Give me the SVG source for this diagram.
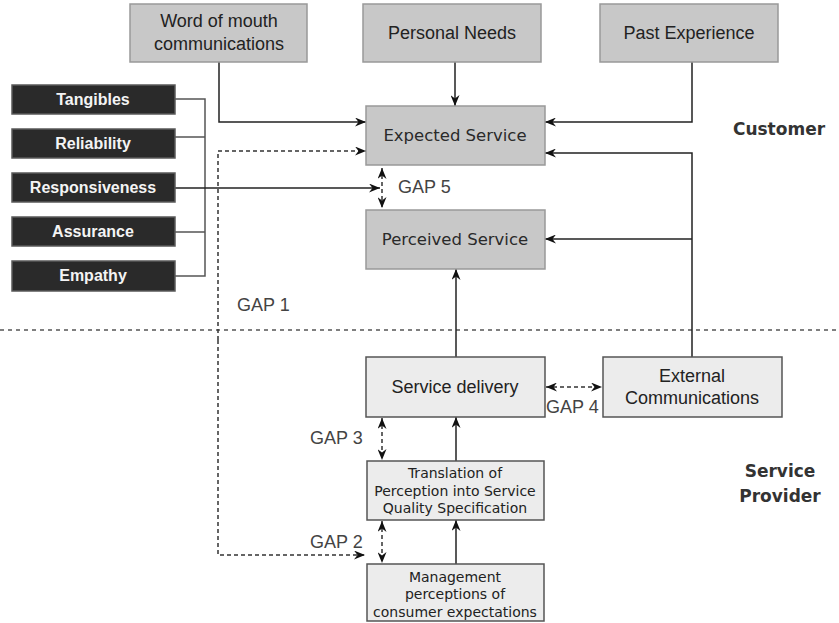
<svg xmlns="http://www.w3.org/2000/svg" width="839" height="623" viewBox="0 0 839 623">
  <style>
    .top { fill: #c8c8c8; stroke: #999999; stroke-width: 1.5; }
    .low { fill: #ececec; stroke: #555555; stroke-width: 1.5; }
    .dim { fill: #2a2a2a; stroke: #5a5a5a; stroke-width: 1.5; }
    .t18 { font-family: "Liberation Sans", Arial, sans-serif; font-size: 18px; fill: #222222; text-anchor: middle; }
    .tsv { font-family: "DejaVu Sans", Verdana, sans-serif; font-size: 16.5px; fill: #2a2a2a; text-anchor: middle; }
    .tsm { font-family: "DejaVu Sans", Verdana, sans-serif; font-size: 14px; fill: #222222; text-anchor: middle; }
    .tdim { font-family: "Liberation Sans", Arial, sans-serif; font-size: 16px; font-weight: bold; fill: #f4f4f4; text-anchor: middle; }
    .gap { font-family: "Liberation Sans", Arial, sans-serif; font-size: 18px; fill: #444444; }
    .side { font-family: "DejaVu Sans", Verdana, sans-serif; font-size: 17px; font-weight: bold; fill: #333333; text-anchor: middle; }
    .ln { fill: none; stroke: #222222; stroke-width: 1.5; }
    .br { fill: none; stroke: #555555; stroke-width: 1.5; }
    .dash { fill: none; stroke: #333333; stroke-width: 1.5; stroke-dasharray: 4 3; }
    .sep { fill: none; stroke: #555555; stroke-width: 1.5; stroke-dasharray: 4 4; }
  </style>
  <defs>
    <marker id="arr" viewBox="0 0 11 9" refX="11" refY="4.5" markerWidth="11" markerHeight="9" markerUnits="userSpaceOnUse" orient="auto-start-reverse">
      <path d="M0,0 L11,4.5 L0,9 L3.5,4.5 z" fill="#111111"/>
    </marker>
  </defs>

  <rect width="839" height="623" fill="#ffffff"/>

  <!-- region separator -->
  <path class="sep" d="M0,330 H839"/>

  <g id="connectors">
    <path class="ln" d="M219,62 V122 H366" marker-end="url(#arr)"/>
    <path class="ln" d="M455,62 V106" marker-end="url(#arr)"/>
    <path class="ln" d="M692,62 V122 H545" marker-end="url(#arr)"/>
    <path class="ln" d="M692,357 V153 H545" marker-end="url(#arr)"/>
    <path class="ln" d="M692,239 H545" marker-end="url(#arr)"/>
    <path class="ln" d="M456,357 V269" marker-end="url(#arr)"/>
    <path class="ln" d="M456,461 V417" marker-end="url(#arr)"/>
    <path class="ln" d="M456,564 V520" marker-end="url(#arr)"/>
    <!-- dimension bracket -->
    <path class="br" d="M175,99 H205 V276 H175"/>
    <path class="br" d="M175,137 H205"/>
    <path class="br" d="M175,232 H205"/>
    <path class="ln" d="M175,188 H380" marker-end="url(#arr)"/>
    <!-- GAP 1 -->
    <path class="dash" d="M218,340 V151 H366" marker-end="url(#arr)"/>
    <path class="dash" d="M218,340 V555 H365" marker-end="url(#arr)"/>
    <!-- GAP 5, 4, 3, 2 -->
    <path class="dash" d="M382,168 V208" marker-start="url(#arr)" marker-end="url(#arr)"/>
    <path class="dash" d="M546,387 H602" marker-start="url(#arr)" marker-end="url(#arr)"/>
    <path class="dash" d="M382,418 V460" marker-start="url(#arr)" marker-end="url(#arr)"/>
    <path class="dash" d="M382,521 V563" marker-start="url(#arr)" marker-end="url(#arr)"/>
  </g>

  <g id="word-of-mouth">
    <rect class="top" x="130" y="4" width="177" height="58"/>
    <text class="t18" x="219" y="27">Word of mouth</text>
    <text class="t18" x="219" y="50">communications</text>
  </g>
  <g id="personal-needs">
    <rect class="top" x="363" y="4" width="178" height="58"/>
    <text class="t18" x="452" y="39">Personal Needs</text>
  </g>
  <g id="past-experience">
    <rect class="top" x="600" y="4" width="178" height="58"/>
    <text class="t18" x="689" y="39">Past Experience</text>
  </g>

  <g id="expected-service">
    <rect class="top" x="366" y="106" width="179" height="59"/>
    <text class="tsv" x="455" y="141">Expected Service</text>
  </g>
  <g id="perceived-service">
    <rect class="top" x="366" y="210" width="179" height="59"/>
    <text class="tsv" x="455" y="245">Perceived Service</text>
  </g>

  <g id="tangibles">
    <rect class="dim" x="12" y="85" width="163" height="29"/>
    <text class="tdim" x="93" y="105">Tangibles</text>
  </g>
  <g id="reliability">
    <rect class="dim" x="12" y="129" width="163" height="29"/>
    <text class="tdim" x="93" y="149">Reliability</text>
  </g>
  <g id="responsiveness">
    <rect class="dim" x="12" y="173" width="163" height="29"/>
    <text class="tdim" x="93" y="193">Responsiveness</text>
  </g>
  <g id="assurance">
    <rect class="dim" x="12" y="217" width="163" height="29"/>
    <text class="tdim" x="93" y="237">Assurance</text>
  </g>
  <g id="empathy">
    <rect class="dim" x="12" y="261" width="163" height="30"/>
    <text class="tdim" x="93" y="281">Empathy</text>
  </g>

  <g id="service-delivery">
    <rect class="low" x="366" y="357" width="179" height="60"/>
    <text class="t18" x="455" y="393">Service delivery</text>
  </g>
  <g id="external-communications">
    <rect class="low" x="603" y="357" width="179" height="60"/>
    <text class="t18" x="692" y="382">External</text>
    <text class="t18" x="692" y="404">Communications</text>
  </g>
  <g id="translation">
    <rect class="low" x="367" y="461" width="177" height="59"/>
    <text class="tsm" x="455" y="478">Translation of</text>
    <text class="tsm" x="455" y="496">Perception into Service</text>
    <text class="tsm" x="455" y="513">Quality Specification</text>
  </g>
  <g id="management">
    <rect class="low" x="367" y="564" width="177" height="57"/>
    <text class="tsm" x="455" y="582">Management</text>
    <text class="tsm" x="455" y="599">perceptions of</text>
    <text class="tsm" x="455" y="617">consumer expectations</text>
  </g>

  <g id="labels">
    <text class="gap" x="398" y="193">GAP 5</text>
    <text class="gap" x="237" y="311">GAP 1</text>
    <text class="gap" x="546" y="413">GAP 4</text>
    <text class="gap" x="310" y="444">GAP 3</text>
    <text class="gap" x="310" y="548">GAP 2</text>
    <text class="side" x="779" y="135">Customer</text>
    <text class="side" x="780" y="477">Service</text>
    <text class="side" x="780" y="502">Provider</text>
  </g>
</svg>
